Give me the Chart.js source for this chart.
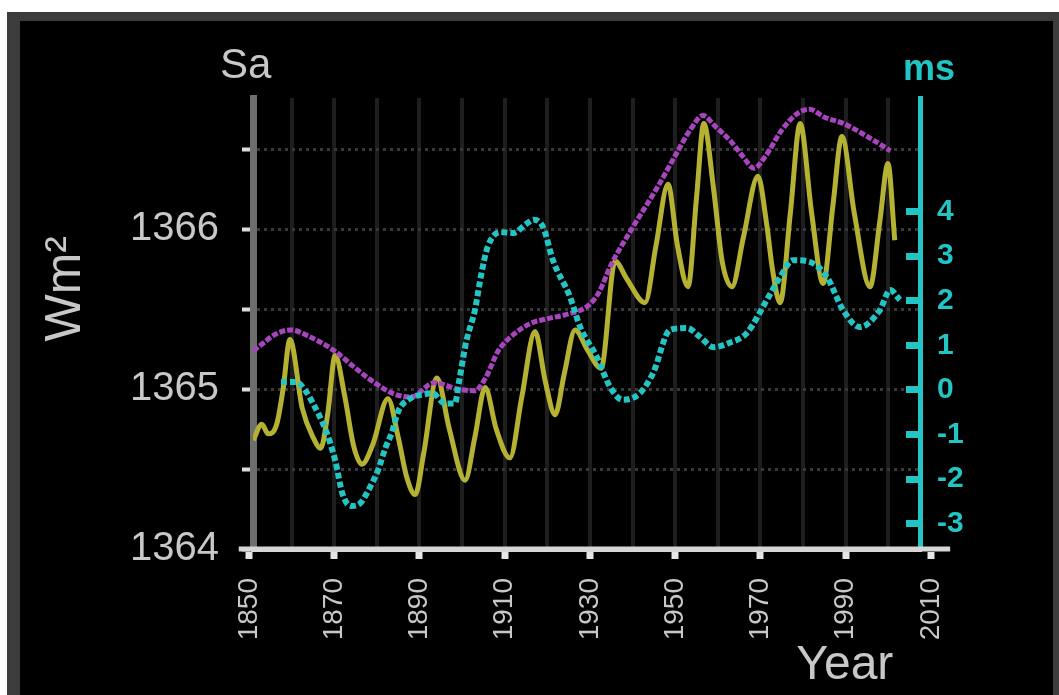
<!DOCTYPE html>
<html>
<head>
<meta charset="utf-8">
<script src="https://cdn.jsdelivr.net/npm/chart.js@4.4.1/dist/chart.umd.min.js"></script>
<style>
html,body{margin:0;padding:0;background:#fff;width:1059px;height:695px;overflow:hidden;}
#frame{position:absolute;left:7px;top:12px;width:1052px;height:683px;background:#3c3c3c;}
#inner{position:absolute;left:20px;top:21px;width:1033px;height:674px;background:#000;}
#c{position:absolute;left:0;top:0;}
</style>
</head>
<body>
<div id="frame"></div>
<div id="inner"></div>
<canvas id="c" width="1059" height="695"></canvas>
<script>
// Solar irradiance (Sa), W/m2 - yellow
const tsiYears  = [1851, 1853, 1854.5, 1856.5, 1858, 1859.6, 1862.5, 1865, 1866.8, 1868.5, 1870.2, 1872.5, 1874.5, 1876.5, 1879, 1882.6, 1885, 1887, 1889, 1891, 1894.1, 1897, 1900.7, 1903, 1905.4, 1908, 1911.2, 1914, 1917.1, 1919.5, 1921.8, 1924, 1926.5, 1929.5, 1932.6, 1935.9, 1938.6, 1942.9, 1945.5, 1948.3, 1950.5, 1953, 1955, 1956.7, 1959, 1961, 1963.3, 1966, 1969.4, 1971.5, 1972.8, 1974.6, 1977, 1979.3, 1982, 1984.7, 1987, 1989.1, 1992, 1995.7, 1998, 1999.9, 2001.5];
const tsiValues = [1364.68, 1364.78, 1364.72, 1364.78, 1365.0, 1365.31, 1364.88, 1364.7, 1364.63, 1364.85, 1365.21, 1364.95, 1364.65, 1364.53, 1364.65, 1364.94, 1364.7, 1364.45, 1364.34, 1364.6, 1365.07, 1364.75, 1364.43, 1364.7, 1365.01, 1364.75, 1364.57, 1364.95, 1365.36, 1365.05, 1364.84, 1365.1, 1365.37, 1365.24, 1365.13, 1365.8, 1365.69, 1365.54, 1365.9, 1366.28, 1365.9, 1365.64, 1366.2, 1366.66, 1366.25, 1365.8, 1365.64, 1365.95, 1366.33, 1366.02, 1365.75, 1365.54, 1366.1, 1366.66, 1366.1, 1365.66, 1366.15, 1366.58, 1366.1, 1365.64, 1366.05, 1366.41, 1365.93];

// Upper envelope, W/m2 - magenta
const envYears  = [1851, 1853, 1856, 1859.8, 1864, 1870, 1875, 1880, 1884, 1888, 1893.5, 1899, 1903, 1905.5, 1908.5, 1912, 1916, 1920, 1925, 1929.5, 1932, 1935, 1940, 1946, 1950, 1953.5, 1956.5, 1959.5, 1963, 1966, 1968.5, 1971, 1975, 1978.5, 1981.5, 1985, 1989.5, 1995, 2000.5];
const envValues = [1365.24, 1365.28, 1365.34, 1365.37, 1365.33, 1365.24, 1365.13, 1365.03, 1364.97, 1364.95, 1365.04, 1365.0, 1364.99, 1365.07, 1365.24, 1365.34, 1365.41, 1365.44, 1365.47, 1365.52, 1365.6, 1365.78, 1366.01, 1366.27, 1366.46, 1366.62, 1366.71, 1366.64, 1366.55, 1366.45, 1366.38, 1366.45, 1366.62, 1366.72, 1366.75, 1366.7, 1366.66, 1366.58, 1366.49];

// Length-of-day anomaly, ms - cyan
const lodYears  = [1857.5, 1861, 1863.5, 1865, 1868, 1870.2, 1872, 1874, 1876, 1878, 1880.3, 1882, 1883.5, 1885, 1888, 1891, 1893, 1896, 1898.3, 1899.3, 1901, 1903, 1904.5, 1906, 1909, 1912, 1915, 1916.8, 1919, 1921.3, 1925.3, 1927.7, 1931.6, 1934.7, 1937.7, 1941.7, 1944.8, 1948.8, 1952.8, 1955.8, 1959, 1962.5, 1966.8, 1971.5, 1974.6, 1977.6, 1981.6, 1985.6, 1989.4, 1993.3, 1998, 2000.4, 2002.7];
const lodValues = [0.18, 0.18, -0.05, -0.3, -0.9, -1.57, -2.35, -2.6, -2.55, -2.25, -1.79, -1.3, -0.96, -0.48, -0.18, -0.1, -0.07, -0.3, -0.3, 0.2, 1.1, 1.79, 2.6, 3.21, 3.54, 3.52, 3.72, 3.82, 3.65, 2.91, 2.09, 1.41, 0.74, 0.07, -0.22, -0.07, 0.38, 1.35, 1.39, 1.19, 0.96, 1.05, 1.28, 2.02, 2.53, 2.91, 2.87, 2.53, 1.79, 1.41, 1.79, 2.24, 2.02];

// Tick values / labels
const yearTicks    = [1850, 1860, 1870, 1880, 1890, 1900, 1910, 1920, 1930, 1940, 1950, 1960, 1970, 1980, 1990, 2000, 2010];
const labeledYears = [1850, 1870, 1890, 1910, 1930, 1950, 1970, 1990, 2010];
const wTicks   = [1364, 1364.5, 1365, 1365.5, 1366, 1366.5];
const wLabels  = [1364, 1365, 1366];
const msTicks  = [-3, -2, -1, 0, 1, 2, 3, 4];

const FONT = '"Liberation Sans", Arial, Helvetica, sans-serif';
const GREY_TXT = '#c8c8c8';
const CYAN = '#22c4c4';
const pts = (xs, ys) => xs.map((x, i) => ({x: x, y: ys[i]}));

const extras = {
  id: 'extras',
  afterDraw(chart) {
    const {ctx, chartArea, scales} = chart;
    const xs = scales.x;
    ctx.save();
    ctx.strokeStyle = '#d6d6d6';
    ctx.lineWidth = 5;
    ctx.beginPath();
    ctx.moveTo(xs.getPixelForValue(1847.6), chartArea.bottom);
    ctx.lineTo(xs.getPixelForValue(2014.5), chartArea.bottom);
    ctx.stroke();
    ctx.fillStyle = GREY_TXT;
    ctx.font = '42px ' + FONT;
    ctx.textAlign = 'left';
    ctx.textBaseline = 'alphabetic';
    ctx.fillText('Sa', chartArea.left - 33, chartArea.top - 20);
    ctx.fillStyle = CYAN;
    ctx.font = 'bold 36px ' + FONT;
    ctx.textAlign = 'center';
    ctx.fillText('ms', scales.yR.left + 9, chartArea.top - 18);
    ctx.restore();
  }
};

new Chart(document.getElementById('c'), {
  type: 'line',
  data: {
    datasets: [
      {label: 'ms', data: pts(lodYears, lodValues), yAxisID: 'yR', borderColor: CYAN, borderWidth: 6,
       borderDash: [6, 3], pointRadius: 0, cubicInterpolationMode: 'monotone', order: 0},
      {label: 'envelope', data: pts(envYears, envValues), yAxisID: 'y', borderColor: '#a844bf', borderWidth: 5,
       borderDash: [6, 2], pointRadius: 0, cubicInterpolationMode: 'monotone', order: 1},
      {label: 'Sa', data: pts(tsiYears, tsiValues), yAxisID: 'y', borderColor: '#b5b233', borderWidth: 5,
       pointRadius: 0, cubicInterpolationMode: 'monotone', order: 2}
    ]
  },
  options: {
    responsive: false,
    animation: false,
    devicePixelRatio: 1,
    layout: {padding: {left: 0, top: 98, right: 39, bottom: 0}},
    plugins: {legend: {display: false}, tooltip: {enabled: false}},
    scales: {
      x: {
        type: 'linear', position: 'bottom', min: 1850.94, max: 2007.42,
        afterBuildTicks: s => { s.ticks = yearTicks.map(v => ({value: v})); },
        afterFit: s => { s.height = 146; },
        ticks: {
          autoSkip: false, minRotation: 90, maxRotation: 90, padding: 19, color: GREY_TXT,
          font: {family: FONT, size: 28},
          callback: v => labeledYears.includes(v) ? String(v) : ''
        },
        grid: {
          color: c => (c.tick && c.tick.value > 1850 && c.tick.value < 2010) ? '#1e1e1e' : 'rgba(0,0,0,0)',
          lineWidth: 4,
          tickColor: c => (c.tick && labeledYears.includes(c.tick.value)) ? '#e6e6e6' : 'rgba(0,0,0,0)',
          tickLength: 10, tickWidth: 7
        },
        border: {color: '#d6d6d6', width: 5},
        title: {display: true, text: 'Year  ', align: 'end', color: GREY_TXT,
                font: {family: FONT, size: 48}, padding: {top: 0, bottom: 0}}
      },
      y: {
        type: 'linear', position: 'left', min: 1364, max: 1366.82,
        afterBuildTicks: s => { s.ticks = wTicks.map(v => ({value: v})); },
        afterFit: s => { s.width = 253; },
        ticks: {
          padding: 23, color: GREY_TXT, font: {family: FONT, size: 40},
          callback: v => wLabels.includes(v) ? String(v) : ''
        },
        grid: {
          color: c => (c.tick && c.tick.value > 1364) ? '#383838' : 'rgba(0,0,0,0)',
          lineWidth: 3, tickColor: '#dcdcdc', tickLength: 11, tickWidth: 4
        },
        border: {color: '#6e6e6e', width: 7, dash: [3, 4]},
        title: {display: true, text: '     Wm²', color: GREY_TXT,
                font: {family: FONT, size: 50}, padding: {top: 36, bottom: 0}}
      },
      yR: {
        type: 'linear', position: 'right', min: -3.565, max: 6.547,
        afterBuildTicks: s => { s.ticks = msTicks.map(v => ({value: v})); },
        afterFit: s => { s.width = 100; },
        ticks: {
          padding: 31, color: CYAN, font: {family: FONT, size: 30, weight: 'bold'},
          callback: v => String(v)
        },
        grid: {drawOnChartArea: false, tickColor: CYAN, tickLength: -14, tickWidth: 7},
        border: {color: CYAN, width: 5}
      }
    }
  },
  plugins: [extras]
});
</script>
</body>
</html>
